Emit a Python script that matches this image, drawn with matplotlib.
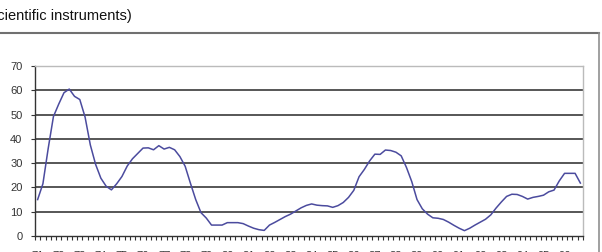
import matplotlib
matplotlib.use("Agg")
import matplotlib.pyplot as plt
from matplotlib.lines import Line2D

title = "(scientific instruments)"
values = [15, 21.5, 36, 49.2, 54.3, 59, 60.5, 57.5, 56.2, 49,
          37.5, 29.5, 23.8, 20.5, 19, 21.5, 24.5, 28.8, 31.8, 34,
          36.2, 36.3, 35.5, 37.2, 35.8, 36.5, 35.5, 32.7, 28.7, 21.7,
          15, 9.6, 7.4, 4.5, 4.5, 4.5, 5.5, 5.5, 5.5, 5.1,
          4.1, 3.2, 2.6, 2.3, 4.5, 5.6, 6.8, 8, 9, 10.3,
          11.6, 12.6, 13.2, 12.7, 12.5, 12.4, 11.8, 12.5, 13.8, 15.9,
          18.8, 24.4, 27.4, 30.9, 33.7, 33.6, 35.4, 35.2, 34.5, 33,
          28.2, 22.4, 15, 11.2, 9, 7.5, 7.3, 6.8, 5.7, 4.4,
          3.2, 2.2, 3.2, 4.5, 5.7, 6.9, 8.7, 11.5, 14, 16.3,
          17.2, 17.1, 16.3, 15.2, 15.9, 16.3, 16.8, 18.2, 18.9, 22.7,
          25.8, 25.8, 25.8, 21.8]
year_labels = [f"{y:02d}" for y in range(71, 97)]
y_ticks = [0, 10, 20, 30, 40, 50, 60, 70]

plt.rcParams['font.family'] = ['Liberation Sans', 'DejaVu Sans']

W, H = 602, 252
fig = plt.figure(figsize=(W / 100, H / 100), dpi=100)

# title text (its left part runs off the picture, as in the reference) and chart frame
fig.text(132 / W, 1 - 16 / H, title, fontsize=10.5, color='#111111', va='center', ha='right')
fig.add_artist(Line2D([0, 599 / W], [1 - 33 / H, 1 - 33 / H], color='#707070', lw=1.5,
                      transform=fig.transFigure))
fig.add_artist(Line2D([599 / W, 599 / W], [0, 1 - 33 / H], color='#909090', lw=1.2,
                      transform=fig.transFigure))

left, right, top, bottom = 35, 583, 66, 236
ax = fig.add_axes([left / W, 1 - bottom / H, (right - left) / W, (bottom - top) / H])

n = len(values)
x = list(range(n))
ax.plot(x, values, color='#4b4b9e', lw=1.1)

ax.set_xlim(-0.5, n - 0.5)
ax.set_ylim(0, 70)
ax.set_yticks(y_ticks)
ax.set_yticklabels([str(v) for v in y_ticks], fontsize=8, color='#333333')
for v in y_ticks[1:-1]:
    ax.axhline(v, color='#3a3a3a', lw=1.2, zorder=0)

ax.set_xticks([i * 4 for i in range(len(year_labels))])
ax.set_xticklabels(year_labels, fontsize=8, color='#333333')
ax.set_xticks([k - 0.5 for k in range(n + 1)], minor=True)
ax.tick_params(axis='x', which='major', length=0, pad=11)
ax.tick_params(axis='x', which='minor', length=3, width=0.8, color='#333333', direction='out')
ax.tick_params(axis='y', which='major', length=3, width=0.8, color='#333333', direction='out', pad=6)

for s in ['left', 'bottom']:
    ax.spines[s].set_color('#333333')
    ax.spines[s].set_linewidth(1.0)
for s in ['top', 'right']:
    ax.spines[s].set_color('#bbbbbb')
    ax.spines[s].set_linewidth(1.0)

fig.savefig('out.png', dpi=100)
